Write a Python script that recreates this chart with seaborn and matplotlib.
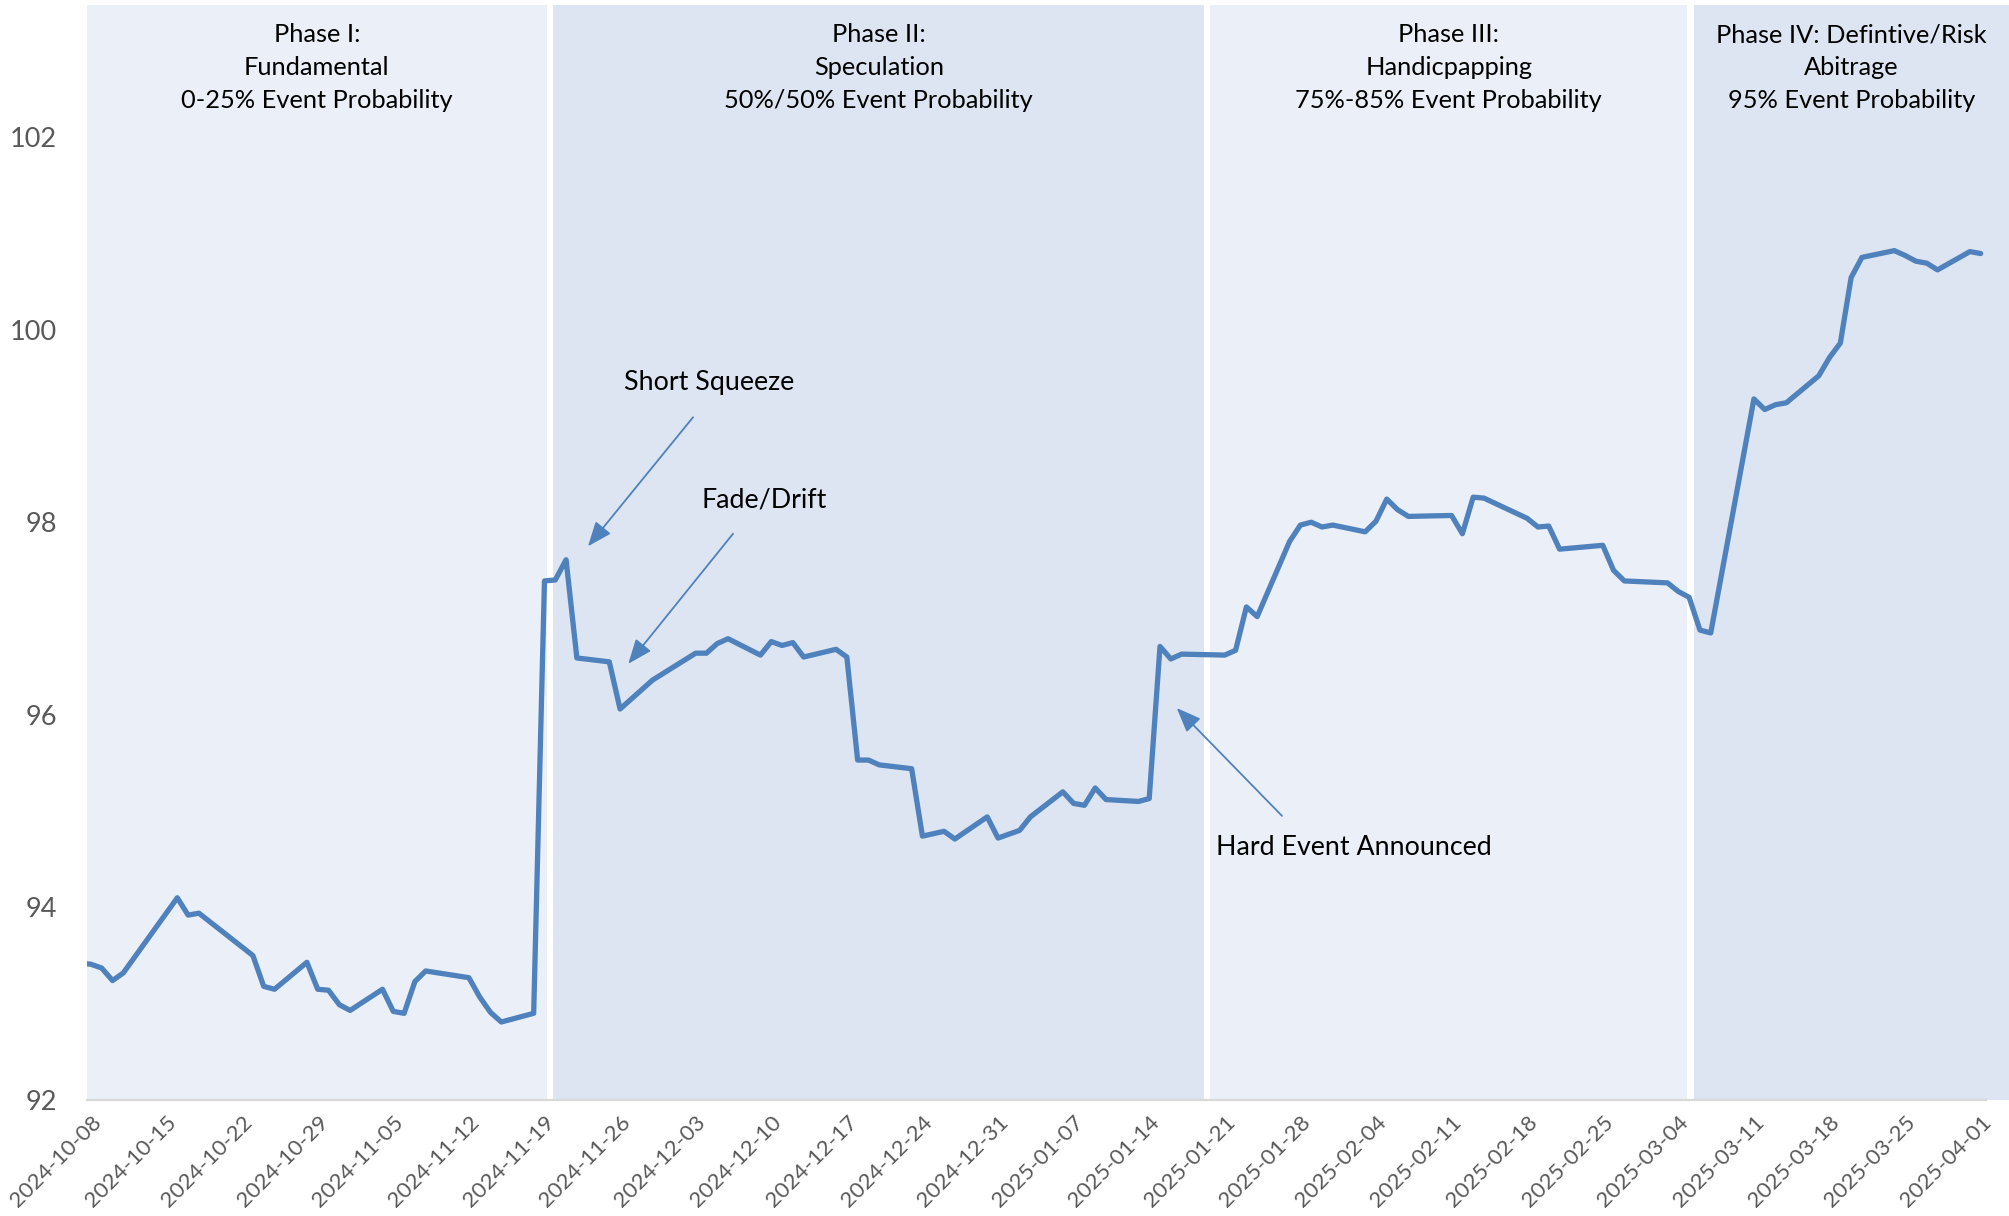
import pandas as pd
import matplotlib.pyplot as plt
import matplotlib.dates as mdates
import seaborn as sns

# Price series (business days)
dates = ['2024-10-07', '2024-10-08', '2024-10-09', '2024-10-10', '2024-10-11', '2024-10-16',
         '2024-10-17', '2024-10-18', '2024-10-23', '2024-10-24', '2024-10-25', '2024-10-28',
         '2024-10-29', '2024-10-30', '2024-10-31', '2024-11-01', '2024-11-04', '2024-11-05',
         '2024-11-06', '2024-11-07', '2024-11-08', '2024-11-12', '2024-11-13', '2024-11-14',
         '2024-11-15', '2024-11-18', '2024-11-19', '2024-11-20', '2024-11-21', '2024-11-22',
         '2024-11-25', '2024-11-26', '2024-11-29', '2024-12-03', '2024-12-04', '2024-12-05',
         '2024-12-06', '2024-12-09', '2024-12-10', '2024-12-11', '2024-12-12', '2024-12-13',
         '2024-12-16', '2024-12-17', '2024-12-18', '2024-12-19', '2024-12-20', '2024-12-23',
         '2024-12-24', '2024-12-26', '2024-12-27', '2024-12-30', '2024-12-31', '2025-01-02',
         '2025-01-03', '2025-01-06', '2025-01-07', '2025-01-08', '2025-01-09', '2025-01-10',
         '2025-01-13', '2025-01-14', '2025-01-15', '2025-01-16', '2025-01-17', '2025-01-21',
         '2025-01-22', '2025-01-23', '2025-01-24', '2025-01-27', '2025-01-28', '2025-01-29',
         '2025-01-30', '2025-01-31', '2025-02-03', '2025-02-04', '2025-02-05', '2025-02-06',
         '2025-02-07', '2025-02-11', '2025-02-12', '2025-02-13', '2025-02-14', '2025-02-18',
         '2025-02-19', '2025-02-20', '2025-02-21', '2025-02-25', '2025-02-26', '2025-02-27',
         '2025-03-03', '2025-03-04', '2025-03-05', '2025-03-06', '2025-03-07', '2025-03-11',
         '2025-03-12', '2025-03-13', '2025-03-14', '2025-03-17', '2025-03-18', '2025-03-19',
         '2025-03-20', '2025-03-21', '2025-03-24', '2025-03-25', '2025-03-26', '2025-03-27',
         '2025-03-28', '2025-03-31', '2025-04-01']
prices = [93.42, 93.41, 93.37, 93.24, 93.32, 94.10,
          93.92, 93.94, 93.50, 93.18, 93.15, 93.43,
          93.15, 93.14, 92.99, 92.93, 93.15, 92.92,
          92.90, 93.23, 93.34, 93.27, 93.07, 92.91,
          92.81, 92.90, 97.39, 97.40, 97.61, 96.59,
          96.55, 96.06, 96.36, 96.64, 96.64, 96.74,
          96.79, 96.62, 96.76, 96.72, 96.75, 96.60,
          96.68, 96.60, 95.53, 95.53, 95.48, 95.44,
          94.74, 94.79, 94.71, 94.94, 94.72, 94.80,
          94.94, 95.20, 95.08, 95.06, 95.24, 95.12,
          95.10, 95.13, 96.71, 96.58, 96.63, 96.62,
          96.67, 97.12, 97.02, 97.80, 97.97, 98.00,
          97.95, 97.97, 97.90, 98.01, 98.24, 98.13,
          98.06, 98.07, 97.88, 98.26, 98.25, 98.04,
          97.95, 97.96, 97.72, 97.76, 97.50, 97.39,
          97.37, 97.28, 97.22, 96.88, 96.85, 99.28,
          99.17, 99.22, 99.24, 99.52, 99.71, 99.86,
          100.54, 100.75, 100.82, 100.77, 100.71, 100.69,
          100.62, 100.81, 100.79]

phase_titles = ['Phase I:\nFundamental\n0-25% Event Probability',
                'Phase II:\nSpeculation\n50%/50% Event Probability',
                'Phase III:\nHandicpapping\n75%-85% Event Probability',
                'Phase IV: Defintive/Risk\nAbitrage\n95% Event Probability']
phase_breaks = ['2024-11-19 13:00', '2025-01-19 09:00', '2025-03-05 03:00']

tick_dates = pd.date_range('2024-10-08', '2025-04-01', freq='7D')

df = pd.DataFrame({'Date': pd.to_datetime(dates), 'Price': prices})

sns.set_theme(style='white')
plt.rcParams['font.family'] = ['Lato', 'DejaVu Sans']

base = pd.Timestamp('2024-10-08')
def day(d):
    return base + pd.Timedelta(days=d)

x_left, x_right = day(-0.41), day(177.62)
axis_end = day(175.45)

fig = plt.figure(figsize=(20.09, 12.16), dpi=100)
ax = fig.add_axes([86.5 / 2009, 116 / 1216, 1 - 86.5 / 2009, 1095 / 1216])

# phase background bands with thin white gaps
gap = pd.Timedelta(hours=6.7)
edges = [x_left] + [pd.Timestamp(b) for b in phase_breaks] + [x_right]
band_colors = ['#EBF0F8', '#DCE5F1', '#EBF0F8', '#DCE5F1']
for i, title in enumerate(phase_titles):
    start = edges[i] + (gap if i > 0 else pd.Timedelta(0))
    end = edges[i + 1] - (gap if i < len(phase_titles) - 1 else pd.Timedelta(0))
    ax.axvspan(start, end, color=band_colors[i], lw=0, zorder=0)
    mid = start + (end - start) / 2
    ax.text(mid, 103.18, title, ha='center', va='top', fontsize=18.3,
            linespacing=1.52, color='#000000', zorder=3)

sns.lineplot(data=df, x='Date', y='Price', ax=ax, color='#4F81BD',
             linewidth=3.8, zorder=2)

ax.set_xlim(x_left, x_right)
ax.set_ylim(92, 92 + 1095 / 96.3)
ax.set_yticks([92, 94, 96, 98, 100, 102])
ax.set_xticks(tick_dates)
ax.set_xticklabels([d.strftime('%Y-%m-%d') for d in tick_dates], rotation=45,
                   ha='right', rotation_mode='anchor')
ax.tick_params(axis='x', length=0, pad=9, labelsize=16, labelcolor='#595959')
ax.tick_params(axis='y', length=0, pad=21, labelsize=19.5, labelcolor='#595959')
ax.set_xlabel('')
ax.set_ylabel('')
ax.grid(False)

for side in ['left', 'top', 'right']:
    ax.spines[side].set_visible(False)
ax.spines['bottom'].set_color('#D9D9D9')
ax.spines['bottom'].set_linewidth(1.6)
ax.spines['bottom'].set_bounds(mdates.date2num(x_left), mdates.date2num(axis_end))

# annotations
arrow = dict(arrowstyle='-|>,head_length=0.5,head_width=0.2', color='#4F81BD',
             lw=1.3, shrinkA=0, shrinkB=0, mutation_scale=30)
ax.annotate('', xy=(day(46.03), 97.75), xytext=(day(55.76), 99.09), arrowprops=arrow)
ax.annotate('', xy=(day(49.76), 96.53), xytext=(day(59.46), 97.88), arrowprops=arrow)
ax.annotate('', xy=(day(100.55), 96.07), xytext=(day(110.3), 94.95), arrowprops=arrow)
ax.text(day(49.37), 99.45, 'Short Squeeze', ha='left', va='center', fontsize=19.3, color='#000000')
ax.text(day(56.5), 98.23, 'Fade/Drift', ha='left', va='center', fontsize=19.3, color='#000000')
ax.text(day(104.2), 94.62, 'Hard Event Announced', ha='left', va='center', fontsize=19.3,
        color='#000000')

plt.savefig('out.png', dpi=100)
